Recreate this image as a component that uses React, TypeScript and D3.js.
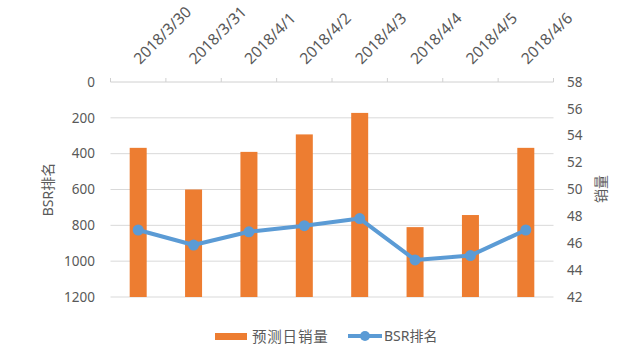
import React from "react";
import * as d3 from "d3";

const categories = ["2018/3/30", "2018/3/31", "2018/4/1", "2018/4/2", "2018/4/3", "2018/4/4", "2018/4/5", "2018/4/6"];
const salesValues = [53.1, 50.0, 52.8, 54.1, 55.7, 47.2, 48.1, 53.1];
const bsrValues = [826, 910, 836, 802, 762, 993, 969, 826];
const leftTicks = [0, 200, 400, 600, 800, 1000, 1200];
const rightTicks = [42, 44, 46, 48, 50, 52, 54, 56, 58];
const seriesNames = ["预测日销量", "BSR排名"];
const axisTitles = ["BSR排名", "销量"];

const W = 640;
const H = 358;
const plotLeft = 110.5;
const plotRight = 553.5;
const plotTop = 82;
const plotBottom = 297;
const barColor = "#ED7D31";
const lineColor = "#5B9BD5";
const textColor = "#595959";
const font = "'Noto Sans', 'Noto Sans CJK SC', sans-serif";

export default function App() {
  const x = d3.scaleBand<string>().domain(categories).range([plotLeft, plotRight]).padding(0);
  const yLeft = d3.scaleLinear().domain([0, 1200]).range([plotTop, plotBottom]);
  const yRight = d3.scaleLinear().domain([42, 58]).range([plotBottom, plotTop]);
  const barW = 17;
  const cx = (c: string) => (x(c) as number) + x.bandwidth() / 2;
  const line = d3
    .line<number>()
    .x((_, i) => cx(categories[i]))
    .y((d) => yLeft(d));

  const boundaries = [...categories.map((c) => x(c) as number), plotRight];

  return (
    <svg
      width={W}
      height={H}
      style={{ position: "absolute", left: 0, top: 0, background: "#fff" }}
      fontFamily={font}
    >
      {leftTicks.filter((t) => t !== 0).map((t) => (
        <line key={"g" + t} x1={plotLeft} x2={plotRight} y1={yLeft(t)} y2={yLeft(t)} stroke="#D9D9D9" strokeWidth={1} />
      ))}
      <line x1={plotLeft} x2={plotRight} y1={plotTop} y2={plotTop} stroke="#D0D0D0" strokeWidth={1} />
      {boundaries.map((b, i) => (
        <line key={"t" + i} x1={b} x2={b} y1={plotTop} y2={plotTop - 4} stroke="#D0D0D0" strokeWidth={1} />
      ))}
      {categories.map((c) => (
        <text
          key={"l" + c}
          transform={`translate(${cx(c) + 2},${65}) rotate(-45)`}
          fontSize={15.5}
          fill={textColor}
          textAnchor="start"
        >
          {c}
        </text>
      ))}
      {categories.map((c, i) => (
        <rect
          key={"b" + c}
          x={cx(c) - barW / 2}
          width={barW}
          y={yRight(salesValues[i])}
          height={plotBottom - yRight(salesValues[i])}
          fill={barColor}
        />
      ))}
      <path d={line(bsrValues) || ""} fill="none" stroke={lineColor} strokeWidth={4} strokeLinejoin="round" />
      {bsrValues.map((v, i) => (
        <circle key={"p" + i} cx={cx(categories[i])} cy={yLeft(v)} r={5.5} fill={lineColor} />
      ))}
      {leftTicks.map((t) => (
        <text key={"yl" + t} x={95} y={yLeft(t)} dy="0.35em" textAnchor="end" fontSize={13.5} fill={textColor}>
          {t}
        </text>
      ))}
      {rightTicks.map((t) => (
        <text key={"yr" + t} x={567} y={yRight(t)} dy="0.35em" textAnchor="start" fontSize={13.5} fill={textColor}>
          {t}
        </text>
      ))}
      <text transform={`translate(48,${(plotTop + plotBottom) / 2}) rotate(-90)`} textAnchor="middle" dy="0.35em" fontSize={14} fill={textColor}>
        {axisTitles[0]}
      </text>
      <text transform={`translate(601,189) rotate(-90)`} textAnchor="middle" dy="0.35em" fontSize={14} fill={textColor}>
        {axisTitles[1]}
      </text>
      <rect x={215} y={333} width={32} height={7} fill={barColor} />
      <text x={252} y={336.5} dy="0.35em" fontSize={14.5} letterSpacing={0.8} fill={textColor}>
        {seriesNames[0]}
      </text>
      <line x1={348} x2={382} y1={336} y2={336} stroke={lineColor} strokeWidth={4} />
      <circle cx={365} cy={336} r={5} fill={lineColor} />
      <text x={384} y={336.5} dy="0.35em" fontSize={14} fill={textColor}>
        {seriesNames[1]}
      </text>
    </svg>
  );
}
